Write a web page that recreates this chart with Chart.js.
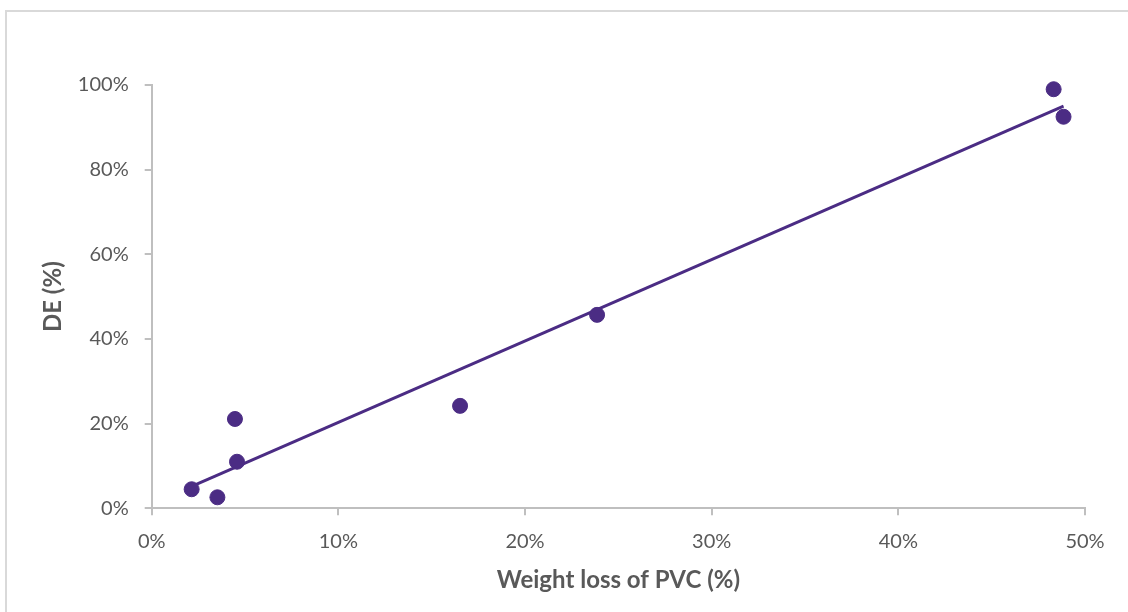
<!DOCTYPE html>
<html>
<head>
<meta charset="utf-8">
<script src="https://cdn.jsdelivr.net/npm/chart.js@4/dist/chart.umd.min.js"></script>
<style>
    html, body { margin:0; padding:0; background:#fff; overflow:hidden; }
    #frame { position:absolute; left:5px; top:10px; width:1200px; height:700px; border:2px solid #d9d9d9; box-sizing:border-box; }
    #chart { position:absolute; left:0; top:0; }
</style>
</head>
<body>
<div id="frame"></div>
<canvas id="chart" width="1128" height="612"></canvas>
<script>
// 측정값 (%)
const weightLoss = [2.14, 3.52, 4.46, 4.57, 16.52, 23.86, 48.32, 48.85];
const deValues   = [4.5, 2.6, 21.1, 11.0, 24.2, 45.7, 99.0, 92.5];

// 추세선 양 끝점
const trendX = [2.14, 48.85];
const trendY = [5.2, 95.0];

const xTicks = [0, 10, 20, 30, 40, 50];
const yTicks = [0, 20, 40, 60, 80, 100];

const PURPLE = '#4B2C84';
const TEXT   = '#595959';
const AXIS   = '#BFBFBF';
const FONT   = 'Lato, "Open Sans", sans-serif';

const points = weightLoss.map((x, i) => ({ x, y: deValues[i] }));
const trend  = trendX.map((x, i) => ({ x, y: trendY[i] }));

new Chart(document.getElementById('chart'), {
    type: 'scatter',
    data: {
        datasets: [
            { label:'DE', data: points, backgroundColor: PURPLE, borderColor: PURPLE, pointRadius: 7.5, pointHoverRadius: 7.5, clip: false, order: 1 },
            { type:'line', label:'trend', data: trend, borderColor: PURPLE, borderWidth: 3, pointRadius: 0, fill: false, clip: false, order: 2 },
        ]
    },
    options: {
        responsive: false,
        animation: false,
        layout: { padding: { left: 0, top: 85, right: 43, bottom: 0 } },
        plugins: { legend: { display: false }, tooltip: { enabled: false } },
        scales: {
            x: {
                type: 'linear', min: 0, max: 50,
                afterBuildTicks: s => { s.ticks = xTicks.map(v => ({ value: v })); },
                afterFit: s => { s.height = 103.7; },
                ticks: { color: TEXT, font: { family: FONT, size: 20 }, padding: 14, callback: v => v + '%' },
                grid: { drawOnChartArea: false, drawTicks: true, tickLength: 7, color: AXIS, lineWidth: 2 },
                border: { display: true, color: AXIS, width: 2 },
                title: { display: true, text: 'Weight loss of PVC (%)', color: TEXT, font: { family: FONT, size: 24, weight: 'bold' }, padding: { top: 4, bottom: 17.6 } }
            },
            y: {
                type: 'linear', min: 0, max: 100,
                afterBuildTicks: s => { s.ticks = yTicks.map(v => ({ value: v })); },
                afterFit: s => { s.width = 151.7; },
                ticks: { color: TEXT, font: { family: FONT, size: 20 }, padding: 16, callback: v => v + '%' },
                grid: { drawOnChartArea: false, drawTicks: true, tickLength: 7, color: AXIS, lineWidth: 2 },
                border: { display: true, color: AXIS, width: 2 },
                title: { display: true, text: 'DE (%)', color: TEXT, font: { family: FONT, size: 24, weight: 'bold' }, padding: { top: 38.6, bottom: 0 } }
            }
        }
    }
});
</script>
</body>
</html>
